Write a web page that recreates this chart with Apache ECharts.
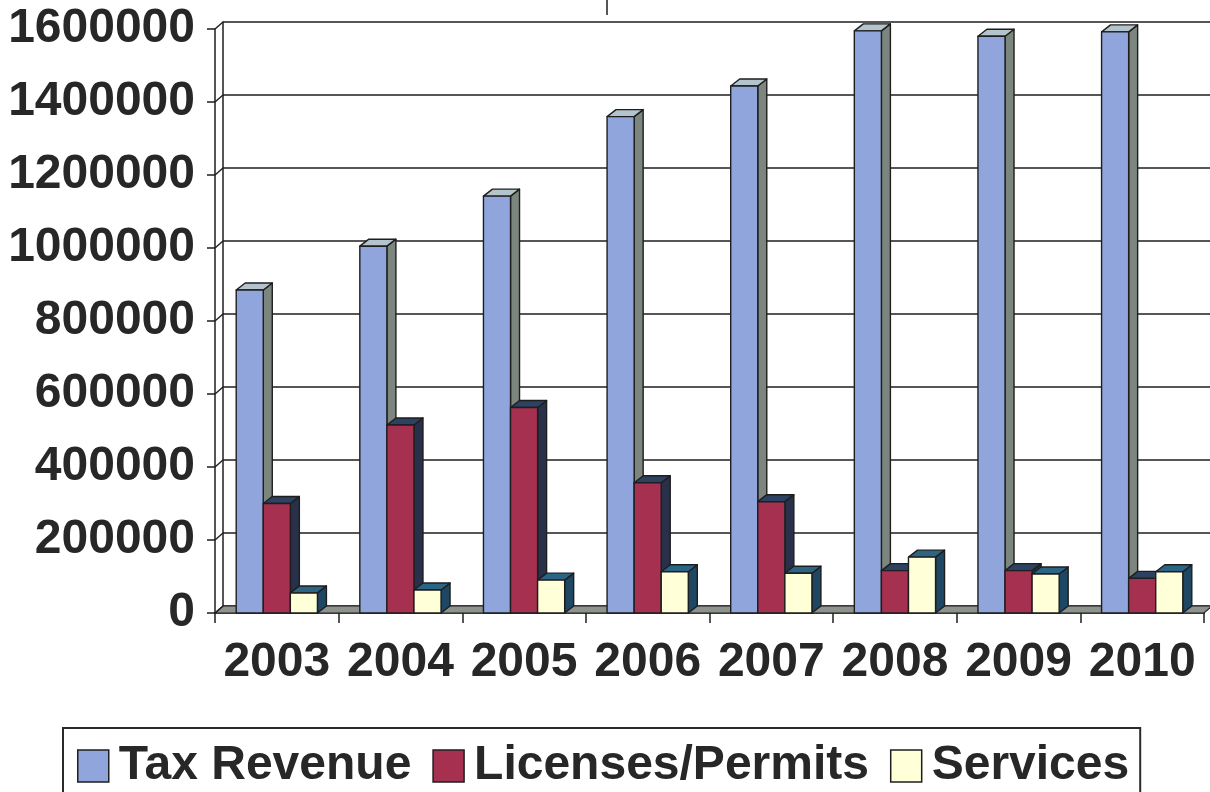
<!DOCTYPE html>
<html>
<head>
<meta charset="utf-8">
<title>Revenue by Source, 2003–2010</title>
<script src="https://cdn.jsdelivr.net/npm/echarts@6/dist/echarts.min.js"></script>
<style>
  html, body { margin: 0; padding: 0; background: #ffffff; }
  #chart { width: 1210px; height: 792px; }
</style>
</head>
<body>
<div id="chart"></div>
<script>
// ---- data ----
const years = ['2003', '2004', '2005', '2006', '2007', '2008', '2009', '2010'];
const taxRevenue = [885000, 1005000, 1142000, 1360000, 1444000, 1595000, 1580000, 1592000];
const licensesPermits = [300000, 515000, 563000, 357000, 305000, 116000, 116000, 95000];
const services = [55000, 63000, 90000, 113000, 109000, 153000, 107000, 113000];
const seriesNames = ['Tax Revenue', 'Licenses/Permits', 'Services'];

const Y_MIN = 0, Y_MAX = 1600000, Y_STEP = 200000;

// ---- look ----
const FONT = '"Liberation Sans", Arial, sans-serif';
const INK = '#272727';
const EDGE = '#1e1e1e';
// front / side / top face colours per series
const faces = [
  { front: '#8fa5dc', side: '#7d867e', top: '#b3c4cc' },
  { front: '#a63050', side: '#29304a', top: '#2d4163' },
  { front: '#ffffd8', side: '#1d4763', top: '#2a6585' }
];
// wall depth offset (back wall relative to front plane)
const WALL_DX = 8, WALL_DY = 7;
// bar depth offset
const BAR_DX = 9, BAR_DY = 7;
const BAR_RATIO = 0.219;

const FRONT = { left: 215, top: 29, right: 6, bottom: 179 };
const BACK = {
  left: FRONT.left + WALL_DX, top: FRONT.top - WALL_DY,
  right: 0, bottom: FRONT.bottom + WALL_DY
};

function toPairs(arr) { return arr.map((v, i) => [i, v]); }

function barRenderer(pos) {
  const f = faces[pos];
  return function (params, api) {
    const idx = api.value(0);
    const val = api.value(1);
    const base = api.coord([idx, 0]);
    const top = api.coord([idx, val]);
    const band = api.size([1, 0])[0];
    const w = band * BAR_RATIO;
    const x0 = base[0] - 1.5 * w + pos * w;
    const x1 = x0 + w;
    const yb = base[1], yt = top[1];
    const st = { stroke: EDGE, lineWidth: 1.4, lineJoin: 'round' };
    return {
      type: 'group',
      children: [
        { type: 'polygon', shape: { points: [[x1, yt], [x1 + BAR_DX, yt - BAR_DY], [x1 + BAR_DX, yb - BAR_DY], [x1, yb]] },
          style: Object.assign({ fill: f.side }, st) },
        { type: 'polygon', shape: { points: [[x0, yt], [x0 + BAR_DX, yt - BAR_DY], [x1 + BAR_DX, yt - BAR_DY], [x1, yt]] },
          style: Object.assign({ fill: f.top }, st) },
        { type: 'rect', shape: { x: x0, y: yt, width: w, height: yb - yt },
          style: Object.assign({ fill: f.front }, st) }
      ]
    };
  };
}

// floor plane and the diagonal gridlines of the left side wall
function floorRenderer(params, api) {
  const cs = params.coordSys;
  const yb = cs.y + cs.height;
  const children = [{
    type: 'polygon',
    shape: { points: [[cs.x, yb], [cs.x + cs.width, yb], [cs.x + cs.width + WALL_DX, yb - WALL_DY], [cs.x + WALL_DX, yb - WALL_DY]] },
    style: { fill: '#8e938e', stroke: EDGE, lineWidth: 1.2 }
  }];
  for (let v = Y_MIN; v <= Y_MAX; v += Y_STEP) {
    const p = api.coord([0, v]);
    children.push({
      type: 'line',
      shape: { x1: cs.x, y1: p[1], x2: cs.x + WALL_DX, y2: p[1] - WALL_DY },
      style: { stroke: EDGE, lineWidth: 1.4 }
    });
  }
  return { type: 'group', children: children };
}

const chart = echarts.init(document.getElementById('chart'), null, { renderer: 'canvas' });

const labelStyle = { fontFamily: FONT, fontWeight: 'bold', fontSize: 48, color: INK };

const option = {
  backgroundColor: '#ffffff',
  animation: false,
  grid: [
    Object.assign({ containLabel: false }, BACK),
    Object.assign({ containLabel: false }, FRONT)
  ],
  xAxis: [
    { type: 'category', gridIndex: 0, data: years, show: false },
    {
      type: 'category', gridIndex: 1, data: years,
      axisLine: { show: true, lineStyle: { color: EDGE, width: 1.5 } },
      axisTick: { show: true, interval: 0, length: 10, lineStyle: { color: EDGE, width: 1.5 } },
      axisLabel: Object.assign({ margin: 26, interval: 0, hideOverlap: false }, labelStyle),
      splitLine: { show: false }
    }
  ],
  yAxis: [
    {
      type: 'value', gridIndex: 0, min: Y_MIN, max: Y_MAX, interval: Y_STEP,
      axisLine: { show: true, lineStyle: { color: EDGE, width: 1.5 } },
      axisTick: { show: false },
      axisLabel: { show: false },
      splitLine: { show: true, lineStyle: { color: EDGE, width: 1.5 } }
    },
    {
      type: 'value', gridIndex: 1, min: Y_MIN, max: Y_MAX, interval: Y_STEP,
      axisLine: { show: true, lineStyle: { color: EDGE, width: 1.5 } },
      axisTick: { show: true, length: 8, lineStyle: { color: EDGE, width: 1.5 } },
      axisLabel: Object.assign({ margin: 20, formatter: v => String(v) }, labelStyle),
      splitLine: { show: false }
    }
  ],
  legend: {
    left: 63, top: 728,
    orient: 'horizontal',
    padding: [14, 11, 40, 14],
    borderColor: '#2a2a2a', borderWidth: 2,
    itemWidth: 31, itemHeight: 32, itemGap: 21,
    icon: 'rect',
    selectedMode: false,
    textStyle: Object.assign({ padding: [0, 0, 0, 5] }, labelStyle),
    data: seriesNames.map((n, i) => ({
      name: n,
      itemStyle: { color: faces[i].front, borderColor: EDGE, borderWidth: 1.5 }
    }))
  },
  series: [
    {
      name: 'floor', type: 'custom', xAxisIndex: 1, yAxisIndex: 1, z: 1,
      silent: true, renderItem: floorRenderer, data: [[0, 0]]
    },
    {
      name: seriesNames[0], type: 'custom', xAxisIndex: 1, yAxisIndex: 1, z: 3,
      itemStyle: { color: faces[0].front }, renderItem: barRenderer(0), data: toPairs(taxRevenue)
    },
    {
      name: seriesNames[1], type: 'custom', xAxisIndex: 1, yAxisIndex: 1, z: 4,
      itemStyle: { color: faces[1].front }, renderItem: barRenderer(1), data: toPairs(licensesPermits)
    },
    {
      name: seriesNames[2], type: 'custom', xAxisIndex: 1, yAxisIndex: 1, z: 5,
      itemStyle: { color: faces[2].front }, renderItem: barRenderer(2), data: toPairs(services)
    }
  ],
  graphic: [
    { type: 'line', shape: { x1: 607, y1: 0, x2: 607, y2: 15 }, style: { stroke: EDGE, lineWidth: 1.5 } }
  ]
};

chart.setOption(option);
</script>
</body>
</html>
